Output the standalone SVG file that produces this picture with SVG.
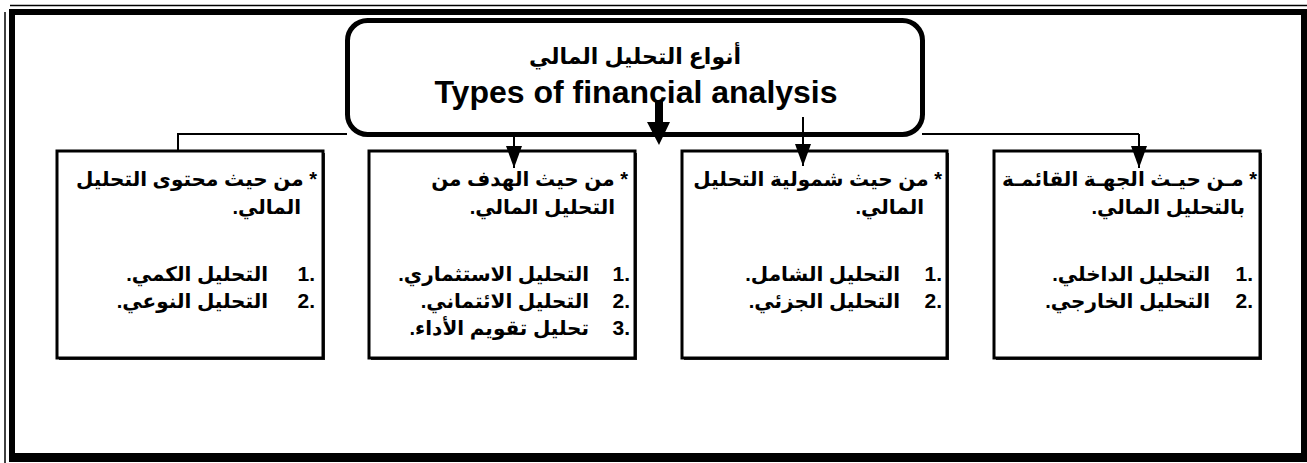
<svg xmlns="http://www.w3.org/2000/svg" width="1307" height="463" viewBox="0 0 1307 463">
<style>
.ar{font-family:"Liberation Sans","DejaVu Sans",sans-serif;font-weight:bold;font-size:20px;fill:#000}
.num{font-family:"Liberation Sans",sans-serif;font-weight:bold;font-size:21px;fill:#000;direction:ltr;unicode-bidi:embed}
.box{fill:#fff;stroke:#000;stroke-width:3}
.sh{fill:#222}
.conn{stroke:#000;stroke-width:2;fill:none}
</style>
<defs>
<marker id="ah" markerUnits="userSpaceOnUse" markerWidth="22" markerHeight="16" refX="22" refY="8" orient="auto">
<path d="M0,0 L22,8 L0,16 Z" fill="#000"/>
</marker>
</defs>
<rect x="0" y="0" width="1307" height="463" fill="#fff"/>
<g id="frame">
<line x1="10" y1="5.5" x2="1307" y2="5.5" stroke="#000" stroke-width="1.5"/>
<line x1="5" y1="12" x2="5" y2="463" stroke="#000" stroke-width="1.5"/>
<path d="M9,9 H1307 V462 H9 Z M15,15 V453 H1301 V15 Z" fill="#000" fill-rule="evenodd"/>
</g>
<g id="box1">
<rect class="sh" x="59" y="153" width="266" height="207"/>
<rect class="box" x="57" y="151" width="266" height="207"/>
<text class="ar" x="317" y="186" direction="rtl" text-anchor="start">* من حيث محتوى التحليل</text>
<text class="ar" x="301" y="214" direction="rtl" text-anchor="start">المالي.</text>
<text class="num" x="315" y="281" text-anchor="end">1.</text>
<text class="ar" x="268" y="281" direction="rtl" text-anchor="start">التحليل الكمي.</text>
<text class="num" x="315" y="308" text-anchor="end">2.</text>
<text class="ar" x="268" y="308" direction="rtl" text-anchor="start">التحليل النوعي.</text>
</g>
<g id="box2">
<rect class="sh" x="371" y="153" width="266" height="207"/>
<rect class="box" x="369" y="151" width="266" height="207"/>
<text class="ar" x="628" y="186" direction="rtl" text-anchor="start">* من حيث الهدف من</text>
<text class="ar" x="615" y="214" direction="rtl" text-anchor="start">التحليل المالي.</text>
<text class="num" x="630" y="281" text-anchor="end">1.</text>
<text class="ar" x="589" y="281" direction="rtl" text-anchor="start">التحليل الاستثماري.</text>
<text class="num" x="630" y="308" text-anchor="end">2.</text>
<text class="ar" x="589" y="308" direction="rtl" text-anchor="start">التحليل الائتماني.</text>
<text class="num" x="630" y="335" text-anchor="end">3.</text>
<text class="ar" x="589" y="335" direction="rtl" text-anchor="start">تحليل تقويم الأداء.</text>
</g>
<g id="box3">
<rect class="sh" x="684" y="153" width="265" height="207"/>
<rect class="box" x="682" y="151" width="265" height="207"/>
<text class="ar" x="942" y="186" direction="rtl" text-anchor="start">* من حيث شمولية التحليل</text>
<text class="ar" x="924" y="214" direction="rtl" text-anchor="start">المالي.</text>
<text class="num" x="942" y="281" text-anchor="end">1.</text>
<text class="ar" x="900" y="281" direction="rtl" text-anchor="start">التحليل الشامل.</text>
<text class="num" x="942" y="308" text-anchor="end">2.</text>
<text class="ar" x="900" y="308" direction="rtl" text-anchor="start">التحليل الجزئي.</text>
</g>
<g id="box4">
<rect class="sh" x="996" y="153" width="266" height="207"/>
<rect class="box" x="994" y="151" width="266" height="207"/>
<text class="ar" x="1257" y="186" direction="rtl" text-anchor="start">* مـن حيـث الجهـة القائمـة</text>
<text class="ar" x="1245" y="214" direction="rtl" text-anchor="start">بالتحليل المالي.</text>
<text class="num" x="1253" y="281" text-anchor="end">1.</text>
<text class="ar" x="1210" y="281" direction="rtl" text-anchor="start">التحليل الداخلي.</text>
<text class="num" x="1253" y="308" text-anchor="end">2.</text>
<text class="ar" x="1210" y="308" direction="rtl" text-anchor="start">التحليل الخارجي.</text>
</g>
<g id="title">
<rect x="347.5" y="20.5" width="575" height="114" rx="20" ry="20" fill="#fff" stroke="#000" stroke-width="5"/>
<text class="ar" x="635" y="64" text-anchor="middle" style="font-size:22px">أنواع التحليل المالي</text>
<text x="636" y="103" text-anchor="middle" font-family="Liberation Sans, Arial, sans-serif" font-weight="bold" font-size="32">Types of financial analysis</text>
</g>
<g id="connectors">
<polyline class="conn" points="178,151 178,134 347,134"/>
<line class="conn" x1="922" y1="134" x2="1139" y2="134"/>
<line class="conn" x1="514" y1="134" x2="514" y2="168" marker-end="url(#ah)"/>
<line class="conn" x1="803" y1="117" x2="803" y2="166" marker-end="url(#ah)"/>
<line class="conn" x1="1139" y1="134" x2="1139" y2="168" marker-end="url(#ah)"/>
<polygon points="655,100 663,100 663,122 670,122 659,145 647,122 655,122" fill="#000"/>
</g>
</svg>
